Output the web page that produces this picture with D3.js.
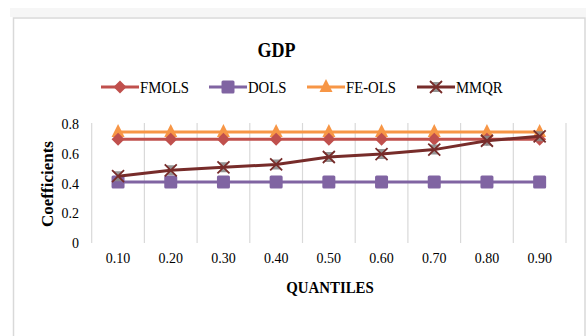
<!DOCTYPE html>
<html><head><meta charset="utf-8">
<script src="https://cdn.jsdelivr.net/npm/d3@7"></script>
<style>body{margin:0;background:#fff}svg{display:block}text{font-family:"Liberation Serif","Times New Roman",serif;fill:#000}</style>
</head><body><svg id="c" width="586" height="336"></svg>
<script>
const categories = ["0.10","0.20","0.30","0.40","0.50","0.60","0.70","0.80","0.90"];
const FMOLS = [0.70,0.70,0.70,0.70,0.70,0.70,0.70,0.70,0.70];
const DOLS = [0.41,0.41,0.41,0.41,0.41,0.41,0.41,0.41,0.41];
const FEOLS = [0.75,0.75,0.75,0.75,0.75,0.75,0.75,0.75,0.75];
const MMQR = [0.45,0.49,0.51,0.53,0.58,0.60,0.63,0.69,0.72];
const yTicks = [0,0.2,0.4,0.6,0.8];

const series = [
  {name:"FMOLS", values:FMOLS, color:"#C0504D", marker:"diamond"},
  {name:"DOLS", values:DOLS, color:"#8064A2", marker:"square"},
  {name:"FE-OLS", values:FEOLS, color:"#F79646", marker:"triangle"},
  {name:"MMQR", values:MMQR, color:"#772C2A", marker:"x"}
];

const svg = d3.select("#c");
svg.append("rect").attr("x",10).attr("y",8).attr("width",576).attr("height",9).attr("fill","#f6f6f6");
svg.append("rect").attr("x",13.5).attr("y",18).attr("width",571.5).attr("height",330).attr("fill","#fff").attr("stroke","#d9d9d9").attr("stroke-width",1.5);

const x = d3.scaleBand().domain(categories).range([91.7,566]);
const y = d3.scaleLinear().domain([0,0.8]).range([242.7,124.5]);

const bounds = categories.map(c=>x(c)).concat([x.range()[1]]);
svg.append("g").selectAll("line").data(bounds).join("line")
  .attr("x1",d=>d).attr("x2",d=>d).attr("y1",123).attr("y2",243)
  .attr("stroke","#d9d9d9").attr("stroke-width",1.2);

const yAxis = d3.axisLeft(y).tickValues(yTicks).tickFormat(d=>d===0?"0":d3.format(".1f")(d)).tickSize(0).tickPadding(0);
const gy = svg.append("g").attr("transform","translate(79,0)").call(yAxis);
gy.select(".domain").remove();
gy.selectAll("text").attr("font-size",14).attr("font-family","Liberation Serif").attr("fill","#000");

const xAxis = d3.axisBottom(x).tickSize(0).tickPadding(0);
const gx = svg.append("g").attr("transform","translate(0,253)").call(xAxis);
gx.select(".domain").remove();
gx.selectAll("text").attr("font-size",14).attr("font-family","Liberation Serif").attr("fill","#000");

const line = d3.line().x((d,i)=>x(categories[i])+x.bandwidth()/2).y(d=>y(d));

function drawMarker(g, type, color, cx, cy){
  if(type==="diamond"){
    g.append("path").attr("d",`M${cx},${cy-6.5}L${cx+6.5},${cy}L${cx},${cy+6.5}L${cx-6.5},${cy}Z`).attr("fill",color);
  } else if(type==="square"){
    g.append("rect").attr("x",cx-6.5).attr("y",cy-6.5).attr("width",13).attr("height",13).attr("rx",1.5).attr("fill",color);
  } else if(type==="triangle"){
    g.append("path").attr("d",`M${cx},${cy-8}L${cx+6.5},${cy+5}L${cx-6.5},${cy+5}Z`).attr("fill",color);
  } else if(type==="x"){
    g.append("path").attr("d",`M${cx-5},${cy-5}L${cx+5},${cy-5}L${cx-5},${cy+5}L${cx+5},${cy+5}Z`).attr("fill","#8a8a8a").attr("opacity",0.9);
    g.append("path").attr("d",`M${cx-6},${cy-6}L${cx+6},${cy+6}M${cx+6},${cy-6}L${cx-6},${cy+6}`).attr("stroke",color).attr("stroke-width",1.8);
  }
}

const order = ["DOLS","FE-OLS","FMOLS","MMQR"];
order.forEach(n=>{
  const s = series.find(d=>d.name===n);
  const g = svg.append("g");
  g.append("path").datum(s.values).attr("d",line).attr("fill","none").attr("stroke",s.color).attr("stroke-width",3);
  s.values.forEach((v,i)=>drawMarker(g,s.marker,s.color,x(categories[i])+x.bandwidth()/2,y(v)));
});

function sText(xp, yp, str, size, sx, opts={}){
  const t = svg.append("text").attr("transform",`translate(${xp},${yp}) scale(${sx},1)`)
    .attr("font-size",size).text(str);
  if(opts.bold) t.attr("font-weight","bold");
  if(opts.anchor) t.attr("text-anchor",opts.anchor);
  return t;
}

sText(276.5,57,"GDP",20,0.9,{bold:true,anchor:"middle"});

const legX = [101,209,307,417];
series.forEach((s,i)=>{
  const g = svg.append("g");
  g.append("line").attr("x1",legX[i]).attr("x2",legX[i]+38).attr("y1",87).attr("y2",87).attr("stroke",s.color).attr("stroke-width",3);
  drawMarker(g,s.marker,s.color,legX[i]+19,87);
  sText(legX[i]+39,92.5,s.name,16,0.92);
});

sText(330,293,"QUANTILES",16,0.93,{bold:true,anchor:"middle"});
svg.append("text").attr("transform","translate(53,184) rotate(-90)").attr("text-anchor","middle").attr("font-size",17).attr("font-weight","bold").text("Coefficients");
</script></body></html>
